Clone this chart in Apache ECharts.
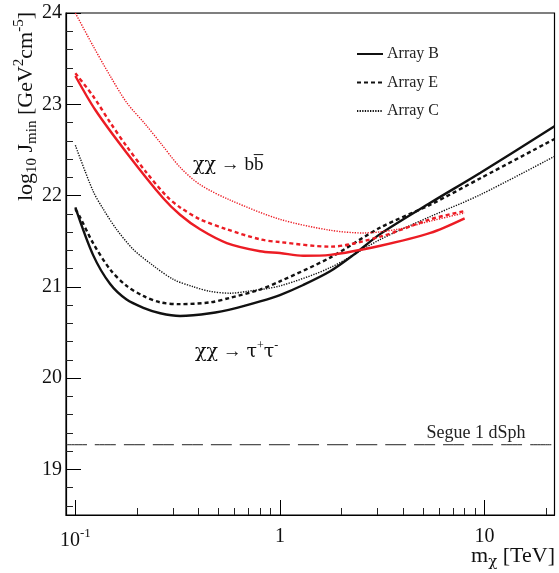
<!DOCTYPE html>
<html>
<head>
<meta charset="utf-8">
<script src="https://cdn.jsdelivr.net/npm/echarts@6.0.0/dist/echarts.min.js"></script>
<style>html,body{margin:0;padding:0;background:#fff}#c{width:559px;height:573px}</style>
</head>
<body>
<div id="c"></div>
<script>
// ---- data (mass in TeV, log10 Jmin) ----
const tauB_x = [0.1, 0.122, 0.148, 0.178, 0.215, 0.26, 0.325, 0.456, 0.616, 0.8, 1.0, 1.3, 1.76, 2.29, 3.1, 5.44, 9.56, 22];
const tauB_y = [21.87, 21.35, 21.03, 20.86, 20.77, 20.71, 20.68, 20.71, 20.77, 20.84, 20.91, 21.02, 21.17, 21.35, 21.58, 21.92, 22.25, 22.76];
const tauE_x = [0.1, 0.105, 0.122, 0.148, 0.178, 0.215, 0.26, 0.325, 0.456, 0.571, 0.8, 1.0, 1.76, 3.1, 5.44, 9.56, 22];
const tauE_y = [21.85, 21.77, 21.48, 21.19, 21.01, 20.90, 20.83, 20.81, 20.83, 20.88, 20.97, 21.06, 21.32, 21.65, 21.90, 22.19, 22.62];
const tauC_x = [0.1, 0.122, 0.137, 0.159, 0.192, 0.241, 0.302, 0.378, 0.456, 0.571, 0.69, 1.0, 1.76, 3.1, 5.44, 9.56, 22];
const tauC_y = [22.55, 22.05, 21.85, 21.63, 21.41, 21.23, 21.08, 21.00, 20.95, 20.93, 20.95, 21.01, 21.21, 21.52, 21.77, 22.01, 22.43];
const bbB_x = [0.1, 0.125, 0.178, 0.269, 0.325, 0.407, 0.55, 0.8, 1.0, 1.3, 1.76, 3.1, 5.44, 8];
const bbB_y = [23.31, 22.94, 22.47, 21.97, 21.79, 21.63, 21.48, 21.39, 21.37, 21.34, 21.35, 21.45, 21.59, 21.75];
const bbE_x = [0.1, 0.122, 0.148, 0.178, 0.223, 0.28, 0.325, 0.407, 0.55, 0.8, 1.0, 1.76, 3.1, 5.44, 8];
const bbE_y = [23.34, 23.09, 22.80, 22.54, 22.25, 21.99, 21.87, 21.74, 21.63, 21.52, 21.49, 21.44, 21.55, 21.74, 21.83];
const bbC_x = [0.1, 0.122, 0.148, 0.178, 0.22, 0.26, 0.325, 0.407, 0.571, 1.0, 1.76, 2.56, 3.75, 5.44, 8];
const bbC_y = [24.0, 23.64, 23.31, 23.02, 22.78, 22.58, 22.31, 22.12, 21.95, 21.74, 21.62, 21.59, 21.63, 21.72, 21.81];
const segue_x = [0.09, 22];
const segue_y = [19.27, 19.27];

const yMajorTicks = [19, 20, 21, 22, 23, 24];
const yMinorTicks = [18.6, 18.8, 19.2, 19.4, 19.6, 19.8, 20.2, 20.4, 20.6, 20.8, 21.2, 21.4, 21.6, 21.8, 22.2, 22.4, 22.6, 22.8, 23.2, 23.4, 23.6, 23.8];
const xMajorTicks = [0.1, 1, 10];
const xMinorTicks = [0.2, 0.3, 0.4, 0.5, 0.6, 0.7, 0.8, 0.9, 2, 3, 4, 5, 6, 7, 8, 9, 20];
const legendNames = ['Array B', 'Array E', 'Array C'];

const zip = (xs, ys) => xs.map((x, i) => [x, ys[i]]);
const FONT = 'Liberation Serif';
const GFONT = "'DejaVu Serif', 'Liberation Serif'";
const BLACK = '#111111';
const RED = '#ec1c24';

function line(name, xs, ys, color, type, width) {
  return {
    name, type: 'line', data: zip(xs, ys), symbol: 'none', showSymbol: false, smooth: 0.3,
    xAxisIndex: 0, yAxisIndex: 0, silent: true, z: 3,
    lineStyle: { color, type, width, cap: 'butt' }, itemStyle: { color }
  };
}

const chart = echarts.init(document.getElementById('c'), null, { renderer: 'canvas' });
const option = {
  animation: false,
  backgroundColor: '#fff',
  grid: { left: 66, right: 4.5, top: 13, bottom: 58, show: true, borderColor: '#000', borderWidth: 1.2, backgroundColor: 'transparent' },
  legend: {
    data: legendNames, orient: 'vertical', left: 351, top: 41,
    itemWidth: 26, itemHeight: 16, itemGap: 12.5,
    itemStyle: { opacity: 0 },
    textStyle: { fontFamily: FONT, fontSize: 16, color: '#222', padding: [0, 0, 0, -1] }
  },
  xAxis: [
    {
      type: 'log', min: 0.09, max: 22, logBase: 10,
      axisLine: { show: true, lineStyle: { color: '#000', width: 1.2 } },
      splitLine: { show: false },
      axisTick: { show: true, inside: true, length: 15, customValues: xMajorTicks, lineStyle: { color: '#000', width: 1 } },
      minorTick: { show: false },
      axisLabel: {
        customValues: xMajorTicks, margin: 12, fontFamily: FONT, fontSize: 20, color: '#111',
        formatter: v => {
          const l = Math.round(Math.log10(v));
          if (l === -1) return '{a|10}{s|-1}';
          if (l === 0) return '{a|1}';
          return '{a|10}';
        },
        rich: {
          a: { fontFamily: FONT, fontSize: 20, color: '#111' },
          s: { fontFamily: FONT, fontSize: 13, color: '#111', padding: [0, 0, 14, 0] }
        }
      }
    },
    {
      type: 'log', min: 0.09, max: 22, logBase: 10, position: 'bottom',
      axisLine: { show: false }, splitLine: { show: false }, axisLabel: { show: false },
      axisTick: { show: true, inside: true, length: 7, customValues: xMinorTicks, lineStyle: { color: '#222', width: 1 } }
    }
  ],
  yAxis: [
    {
      type: 'value', min: 18.5, max: 24, position: 'left',
      axisLine: { show: true, lineStyle: { color: '#000', width: 1.2 } },
      splitLine: { show: false },
      axisTick: { show: true, inside: true, length: 15, customValues: yMajorTicks, lineStyle: { color: '#000', width: 1 } },
      axisLabel: { customValues: yMajorTicks, margin: 4, fontFamily: FONT, fontSize: 20, color: '#111' }
    },
    {
      type: 'value', min: 18.5, max: 24, position: 'left', offset: 0,
      axisLine: { show: false }, splitLine: { show: false }, axisLabel: { show: false },
      axisTick: { show: true, inside: true, length: 7, customValues: yMinorTicks, lineStyle: { color: '#222', width: 1 } }
    }
  ],
  series: [
    line('Array B', tauB_x, tauB_y, BLACK, 'solid', 2.4),
    line('Array E', tauE_x, tauE_y, BLACK, [4, 3], 2.4),
    line('Array C', tauC_x, tauC_y, BLACK, [1.3, 1.3], 1.4),
    line('bb Array B', bbB_x, bbB_y, RED, 'solid', 2.4),
    line('bb Array E', bbE_x, bbE_y, RED, [4, 3], 2.4),
    line('bb Array C', bbC_x, bbC_y, RED, [1.3, 1.3], 1.4),
    line('Segue 1 dSph', segue_x, segue_y, '#222', [21, 8], 1)
  ],
  graphic: [
    {
      type: 'text', x: 26, y: 12, rotation: Math.PI / 2,
      style: {
        text: '{a|log}{b|10}{a| J}{b|min}{a| [GeV}{c|2}{a|cm}{c|-5}{a|]}',
        align: 'right', verticalAlign: 'middle',
        rich: {
          a: { fontFamily: FONT, fontSize: 22, fill: '#111' },
          b: { fontFamily: FONT, fontSize: 15, fill: '#111', padding: [13, 0, 0, 0] },
          c: { fontFamily: FONT, fontSize: 15, fill: '#111', padding: [0, 0, 13, 0] }
        }
      }
    },
    {
      type: 'text', x: 555, y: 556,
      style: {
        text: '{a|m}{b|χ}{a| [TeV]}', align: 'right', verticalAlign: 'middle',
        rich: {
          a: { fontFamily: FONT, fontSize: 22, fill: '#111' },
          b: { fontFamily: GFONT, fontSize: 15, fill: '#111', padding: [13, 0, 0, 0] }
        }
      }
    },
    {
      type: 'text', x: 193, y: 165,
      style: {
        text: '{g|χχ}{a| → }{a|bb\u0305}', align: 'left', verticalAlign: 'middle',
        rich: {
          g: { fontFamily: GFONT, fontSize: 19, fill: '#111' },
          a: { fontFamily: FONT, fontSize: 19, fill: '#111' }
        }
      }
    },
    {
      type: 'text', x: 195, y: 352,
      style: {
        text: '{g|χχ}{a| → }{g|τ}{s|+}{g|τ}{s|-}', align: 'left', verticalAlign: 'middle',
        rich: {
          g: { fontFamily: GFONT, fontSize: 19, fill: '#111' },
          a: { fontFamily: FONT, fontSize: 19, fill: '#111' },
          s: { fontFamily: FONT, fontSize: 12, fill: '#111', padding: [0, 0, 12, 0] }
        }
      }
    },
    {
      type: 'text', x: 476, y: 433,
      style: { text: 'Segue 1 dSph', fontFamily: FONT, fontSize: 18, fill: '#222', align: 'center', verticalAlign: 'middle' }
    }
  ]
};
chart.setOption(option);
</script>
</body>
</html>
